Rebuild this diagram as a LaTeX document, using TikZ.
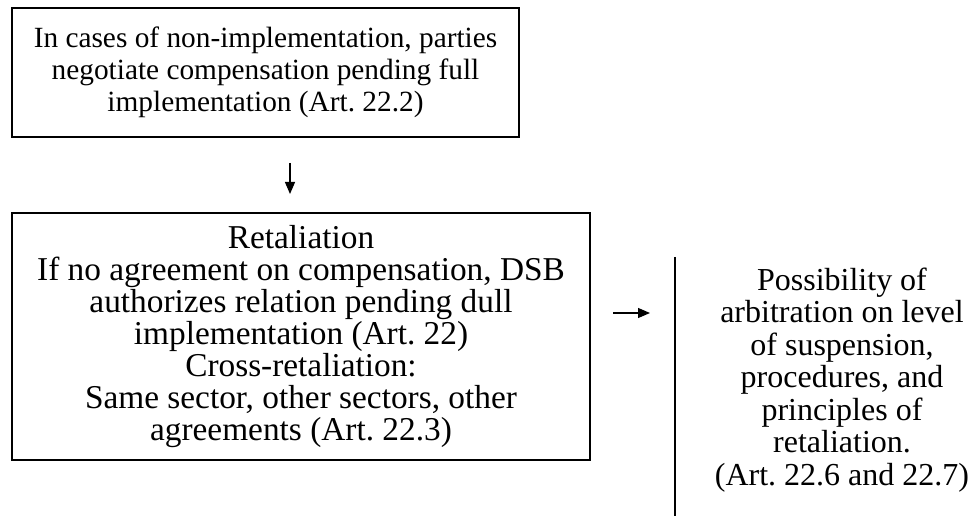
\documentclass[tikz,border=0pt]{standalone}
\usepackage{fontspec}
\setmainfont{Liberation Serif}
\usetikzlibrary{arrows.meta}
\frenchspacing
\begin{document}
\begin{tikzpicture}[x=0.75pt,y=-0.75pt,
  txt/.style={align=center,inner sep=0pt},
  boxed/.style={draw,line width=0.9pt},
  arr/.style={line width=0.9pt,-{Triangle[length=9pt,width=7.5pt]}}]
\useasboundingbox (0,0) rectangle (977,516);
% top box
\draw[boxed] (12,8) rectangle (519,137);
\node[txt,font=\fontsize{22}{24}\selectfont] (top) at (265.5,72.5) {In cases of non-implementation, parties\\negotiate compensation pending full\\implementation (Art. 22.2)};
% retaliation box
\draw[boxed] (12,213) rectangle (590,460);
\node[txt,font=\fontsize{25}{24}\selectfont] (ret) at (301,336.5) {Retaliation\\If no agreement on compensation, DSB\\authorizes relation pending dull\\implementation (Art. 22)\\Cross-retaliation:\\Same sector, other sectors, other\\agreements (Art. 22.3)};
% arbitration box, only its left side shows
\draw[boxed] (675,257) -- (675,516);
\node[txt,font=\fontsize{24}{24.4}\selectfont] (arb) at (842,380) {Possibility of\\arbitration on level\\of suspension,\\procedures, and\\principles of\\retaliation.\\(Art. 22.6 and 22.7)};
% arrows
\coordinate (a1s) at (290,163);
\coordinate (a1e) at (290,194);
\coordinate (a2s) at (613,313);
\coordinate (a2e) at (650,313);
\draw[arr] (a1s) -- (a1e);
\draw[arr] (a2s) -- (a2e);
\end{tikzpicture}
\end{document}
